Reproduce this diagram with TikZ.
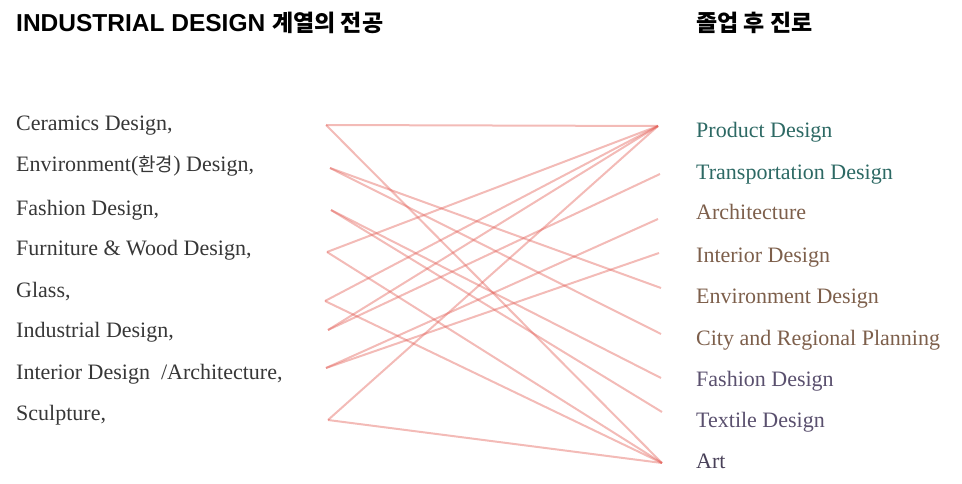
\documentclass[tikz,border=0pt]{standalone}
\usepackage{fontspec}
\setmainfont{Liberation Serif}
\newfontfamily\titlefont{Liberation Sans}
\newfontfamily\krfont{Noto Sans CJK KR}
\definecolor{lefttext}{RGB}{55,55,55}
\definecolor{teal}{RGB}{45,105,100}
\definecolor{brownish}{RGB}{125,95,75}
\definecolor{purplish}{RGB}{90,80,110}
\definecolor{linkred}{RGB}{226,92,84}
\begin{document}
\begin{tikzpicture}[x=1pt,y=-1pt,
  title/.style={anchor=base west,inner sep=0pt,font=\titlefont\bfseries\fontsize{24.5}{26}\selectfont},
  major/.style={anchor=base west,inner sep=0pt,text=lefttext,font=\fontsize{22}{24}\selectfont},
  career/.style={anchor=base west,inner sep=0pt,font=\fontsize{22}{24}\selectfont},
  link/.style={draw=linkred,draw opacity=0.42,line width=2pt}]
\useasboundingbox (0,0) rectangle (962,484);
% titles
\node[title] (t1) at (16,32) {INDUSTRIAL DESIGN {\krfont\bfseries\fontsize{23}{26}\selectfont 계열의 전공}};
\node[title] (t2) at (696,32) {\krfont\bfseries\fontsize{23}{26}\selectfont 졸업 후 진로};
% majors
\node[major] (m1) at (16,131) {Ceramics Design,};
\node[major] (m2) at (16,172) {Environment({\krfont\fontsize{19}{20}\selectfont 환경}) Design,};
\node[major] (m3) at (16,215) {Fashion Design,};
\node[major] (m4) at (16,255) {Furniture \& Wood Design,};
\node[major] (m5) at (16,297) {Glass,};
\node[major] (m6) at (16,337) {Industrial Design,};
\node[major] (m7) at (16,379) {Interior Design \ /Architecture,};
\node[major] (m8) at (16,420) {Sculpture,};
% careers
\node[career,text=teal] (c1) at (696,138) {Product Design};
\node[career,text=teal] (c2) at (696,180) {Transportation Design};
\node[career,text=brownish] (c3) at (696,220) {Architecture};
\node[career,text=brownish] (c4) at (696,262) {Interior Design};
\node[career,text=brownish] (c5) at (696,303) {Environment Design};
\node[career,text=brownish] (c6) at (696,345) {City and Regional Planning};
\node[career,text=purplish] (c7) at (696,386) {Fashion Design};
\node[career,text=purplish] (c8) at (696,427) {Textile Design};
\node[career,text=purplish!80!black] (c9) at (696,468) {Art};
% connector end points
\coordinate (L1) at (326,125);
\coordinate (L2) at (330,168);
\coordinate (L3) at (331,210);
\coordinate (L4) at (327,252);
\coordinate (L5) at (325,301);
\coordinate (L6) at (328,330);
\coordinate (L7) at (326,368);
\coordinate (L8) at (328,420);
\coordinate (R1) at (658,126);
\coordinate (R2) at (660,174);
\coordinate (R3) at (658,219);
\coordinate (R4) at (659,253);
\coordinate (R5) at (661,288);
\coordinate (R6) at (661,334);
\coordinate (R7) at (661,378);
\coordinate (R8) at (662,412);
\coordinate (R9) at (662,463);
% connectors
\draw[link] (L1) -- (R1);
\draw[link] (L1) -- (R9);
\draw[link] (L2) -- (R5);
\draw[link] (L2) -- (R6);
\draw[link] (L3) -- (R7);
\draw[link] (L3) -- (R8);
\draw[link] (L4) -- (R1);
\draw[link] (L4) -- (R9);
\draw[link] (L5) -- (R1);
\draw[link] (L5) -- (R9);
\draw[link] (L6) -- (R1);
\draw[link] (L6) -- (R2);
\draw[link] (L7) -- (R3);
\draw[link] (L7) -- (R4);
\draw[link] (L8) -- (R1);
\draw[link] (L8) -- (R9);
\end{tikzpicture}
\end{document}
